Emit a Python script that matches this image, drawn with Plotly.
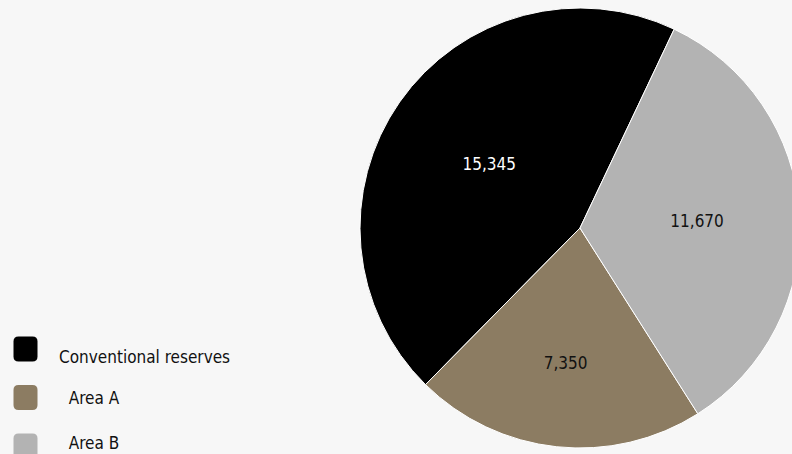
import plotly.graph_objects as go

labels = ["Conventional reserves", "Area A", "Area B"]
legend_text = ["Conventional reserves", "  Area A", "  Area B"]
values = [15345, 7350, 11670]
colors = ["#000000", "#8c7c62", "#b3b3b3"]
text_colors = ["#ffffff", "#111111", "#111111"]

W, H = 800, 454
FONT = "DejaVu Sans Condensed, Liberation Sans Narrow, sans-serif"

fig = go.Figure(go.Pie(
    labels=labels,
    values=values,
    sort=False,
    direction="counterclockwise",
    rotation=-135.4,
    marker=dict(colors=colors, line=dict(color="#ffffff", width=1)),
    textinfo="value",
    texttemplate="%{value:,}",
    textposition="inside",
    insidetextorientation="horizontal",
    insidetextfont=dict(family=FONT, size=17, color=text_colors),
    domain=dict(x=[360 / W, 1.0], y=[(H - 448) / H, (H - 8) / H]),
    showlegend=False,
    hoverinfo="label+value",
))

# custom legend: rounded square markers + text
def px(x):
    return x / W

def py(y):
    return 1 - y / H

def rounded_rect(x0, y0, x1, y1, r):
    return (f"M {px(x0 + r)},{py(y0)} L {px(x1 - r)},{py(y0)} "
            f"Q {px(x1)},{py(y0)} {px(x1)},{py(y0 + r)} "
            f"L {px(x1)},{py(y1 - r)} Q {px(x1)},{py(y1)} {px(x1 - r)},{py(y1)} "
            f"L {px(x0 + r)},{py(y1)} Q {px(x0)},{py(y1)} {px(x0)},{py(y1 - r)} "
            f"L {px(x0)},{py(y0 + r)} Q {px(x0)},{py(y0)} {px(x0 + r)},{py(y0)} Z")

marker_centers = [349, 397.5, 446]
text_centers = [357, 398, 443]
shapes = []
annotations = []
for i, lab in enumerate(legend_text):
    cy = marker_centers[i]
    shapes.append(dict(type="path", xref="paper", yref="paper",
                       path=rounded_rect(13.5, cy - 12.5, 37.5, cy + 12.5, 5),
                       fillcolor=colors[i], line=dict(width=0)))
    annotations.append(dict(x=px(57), y=py(text_centers[i]), xref="paper", yref="paper",
                            text=lab.replace(" ", "&nbsp;"), showarrow=False,
                            xanchor="left", yanchor="middle",
                            font=dict(family=FONT, size=17, color="#111111")))

fig.update_layout(
    width=W, height=H,
    margin=dict(l=0, r=0, t=0, b=0),
    paper_bgcolor="#f7f7f7",
    plot_bgcolor="#f7f7f7",
    shapes=shapes,
    annotations=annotations,
    font=dict(family=FONT),
)

fig.write_html("out.html", post_script="document.body.style.margin='0';document.body.style.overflow='hidden';document.documentElement.style.overflow='hidden';")
